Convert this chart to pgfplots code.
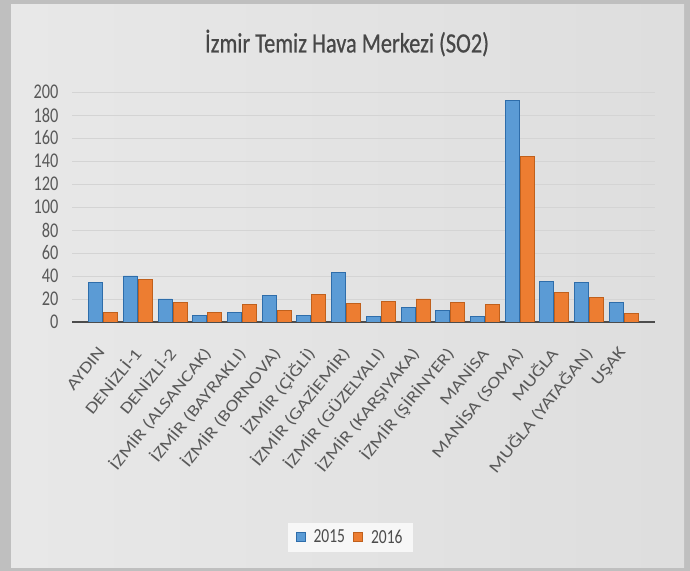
\documentclass[border=0pt]{standalone}
\usepackage{pgfplots}
\pgfplotsset{compat=1.18}
\usepackage{fontspec}
\setmainfont{Carlito}
\newfontfamily\narrow{Carlito}[FakeStretch=0.78]
\newfontfamily\titlefont{Carlito}[FakeStretch=0.8, FakeBold=0.6]
\newfontfamily\wide{Carlito}[FakeStretch=1.22]
\definecolor{blueA}{HTML}{5B9BD5}
\definecolor{blueE}{HTML}{2E6DAA}
\definecolor{orangeA}{HTML}{ED7D31}
\definecolor{orangeE}{HTML}{C0601C}
\definecolor{txt}{HTML}{595959}

\pgfplotstableread{
idx y2015 y2016
0  34  8
1  40  37
2  20  17
3  6   8
4  8   15
5  23  10
6  6   24
7  43  16
8  5   18
9  13  20
10 10  17
11 5   15
12 193 144
13 35  26
14 34  21
15 17  7
}\sotwo

\begin{document}
\begin{tikzpicture}
\path[use as bounding box] (0,0) rectangle (690bp,571bp);
\fill[gray!50] (0,0) rectangle (690bp,571bp);
\shade[left color=black!9, middle color=black!1, right color=black!13]
  (11bp,3bp) rectangle (684bp,566bp);
\node[font=\titlefont\fontsize{28}{30}\selectfont, text=black!72] at (347bp,528bp)
  {İzmir Temiz Hava Merkezi (SO2)};
\begin{axis}[
    at={(72bp,249bp)}, anchor=south west,
    scale only axis, width=583bp, height=230bp,
    ybar=1bp, bar width=14bp,
    xmin=-0.9, xmax=15.9, ymin=0, ymax=200,
    ytick={0,20,...,200},
    xtick=data,
    xticklabels={AYDIN, DENİZLİ-1, DENİZLİ-2, İZMİR (ALSANCAK), İZMİR (BAYRAKLI),
      İZMİR (BORNOVA), İZMİR (ÇİĞLİ), İZMİR (GAZİEMİR), İZMİR (GÜZELYALI),
      İZMİR (KARŞIYAKA), İZMİR (ŞİRİNYER), MANİSA, MANİSA (SOMA), MUĞLA,
      MUĞLA (YATAĞAN), UŞAK},
    x tick label style={xshift=-6bp, yshift=-22bp, rotate=51, anchor=north east,
      font=\wide\fontsize{16.5}{17}\selectfont, text=txt, inner sep=1bp},
    y tick label style={font=\narrow\fontsize{21}{22}\selectfont, text=txt, xshift=-10bp},
    /pgf/number format/assume math mode=true,
    major tick length=0pt,
    axis x line*=bottom, axis y line*=left,
    y axis line style={draw=none},
    x axis line style={draw=black!70, line width=2.2pt, -},
    ymajorgrids, grid style={black!17, line width=0.9pt},
    legend style={at={(0.477,-0.935)}, anchor=center, draw=none,
      fill=black!3, font=\narrow\fontsize{20}{21}\selectfont, text=black!70,
      legend columns=2, column sep=6bp, inner xsep=8bp, inner ysep=5bp},
    legend image code/.code={\draw[#1] (0bp,-4.5bp) rectangle (9bp,4.5bp);},
]
\addplot[fill=blueA, draw=blueE, line width=1pt] table[x=idx, y=y2015] {\sotwo};
\addplot[fill=orangeA, draw=orangeE, line width=1pt] table[x=idx, y=y2016] {\sotwo};
\legend{2015, 2016}
\end{axis}
\end{tikzpicture}
\end{document}
